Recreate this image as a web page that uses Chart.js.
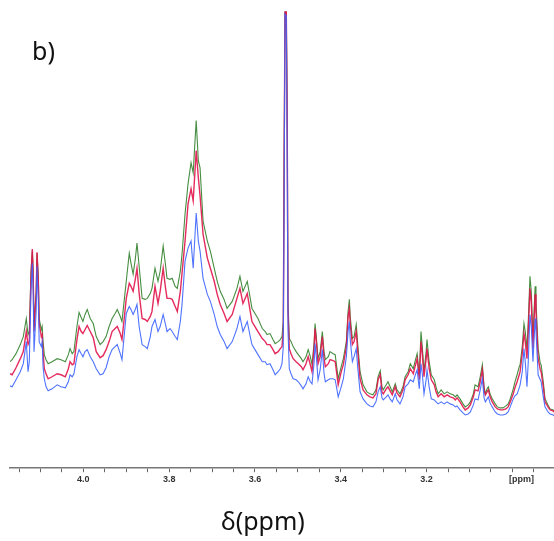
<!DOCTYPE html>
<html>
<head>
<meta charset="utf-8">
<script src="https://cdn.jsdelivr.net/npm/chart.js@4.4.1/dist/chart.umd.min.js"></script>
<style>
  html, body { margin: 0; padding: 0; background: #fff; }
  #wrap { position: relative; width: 554px; height: 541px; overflow: hidden; }
  #wrap canvas { position: absolute; left: 0; top: 0; }
  .lbl { position: absolute; font-family: "Noto Sans", "Open Sans", sans-serif; color: #111; white-space: nowrap; }
  #panel { left: 32px; top: 33px; font-size: 25px; }
  #xlab { left: 221px; top: 503px; font-size: 25px; }
</style>
</head>
<body>
<div id="wrap">
  <canvas id="nmrChart" width="554" height="541"></canvas>
  <div class="lbl" id="panel">b)</div>
  <div class="lbl" id="xlab">δ(ppm)</div>
</div>
<script>
// chemical shift (ppm)
const ppm = [4.171,4.166,4.157,4.147,4.140,4.133,4.129,4.126,4.122,4.119,4.117,4.115,4.110,4.108,4.105,4.103,4.098,4.096,4.094,4.091,
  4.087,4.082,4.073,4.061,4.052,4.042,4.035,4.031,4.026,4.022,4.015,4.010,4.005,4.001,3.996,3.991,3.984,3.977,3.970,3.961,
  3.954,3.947,3.940,3.933,3.926,3.921,3.914,3.910,3.905,3.900,3.893,3.889,3.884,3.879,3.875,3.870,3.863,3.856,3.851,3.844,
  3.840,3.833,3.826,3.821,3.814,3.809,3.805,3.798,3.793,3.786,3.781,3.774,3.770,3.763,3.756,3.749,3.744,3.737,3.732,3.728,
  3.721,3.711,3.704,3.695,3.688,3.681,3.672,3.665,3.653,3.642,3.635,3.628,3.618,3.611,3.607,3.600,3.593,3.583,3.576,3.572,
  3.565,3.558,3.553,3.546,3.541,3.537,3.534,3.532,3.530,3.527,3.525,3.523,3.520,3.516,3.511,3.504,3.499,3.492,3.488,3.481,
  3.476,3.471,3.467,3.462,3.460,3.457,3.453,3.448,3.443,3.439,3.436,3.429,3.425,3.418,3.413,3.406,3.399,3.394,3.387,3.383,
  3.380,3.378,3.373,3.369,3.364,3.360,3.355,3.348,3.339,3.332,3.325,3.318,3.313,3.308,3.304,3.301,3.294,3.290,3.285,3.280,
  3.273,3.269,3.262,3.255,3.250,3.243,3.238,3.231,3.227,3.222,3.217,3.213,3.210,3.206,3.201,3.199,3.194,3.189,3.182,3.178,
  3.173,3.166,3.159,3.152,3.145,3.138,3.133,3.129,3.122,3.115,3.110,3.103,3.098,3.091,3.087,3.080,3.075,3.070,3.066,3.063,
  3.059,3.056,3.052,3.047,3.040,3.035,3.028,3.022,3.015,3.010,3.005,2.998,2.994,2.989,2.984,2.982,2.977,2.973,2.970,2.966,
  2.963,2.959,2.956,2.952,2.947,2.945,2.940,2.935,2.933,2.928,2.924,2.917,2.912,2.905,2.903];

// intensities (arbitrary units) for the three spectra
const greenSpec = [106,108,114,123,131,149,133,136,196,216,196,141,176,214,191,149,138,141,126,113,
  108,104,106,109,108,106,113,119,114,116,141,155,150,146,153,158,149,144,131,123,
  126,131,141,149,154,158,151,146,166,186,214,204,193,208,224,201,169,168,169,174,
  179,199,186,196,221,204,189,188,189,181,179,196,213,253,283,304,294,346,306,299,
  246,226,216,199,186,176,168,159,166,179,191,176,186,169,159,154,149,139,136,133,
  134,128,124,126,128,131,146,316,454,454,366,166,129,126,121,116,113,109,106,111,
  118,111,103,126,144,131,109,116,136,116,108,111,116,114,113,89,101,109,126,156,
  168,151,129,131,143,121,96,83,76,74,73,78,91,97,81,78,83,86,81,76,
  84,78,74,81,91,96,104,99,106,114,93,136,121,96,116,128,106,93,88,81,
  74,78,74,76,74,73,71,73,69,64,61,63,66,74,83,81,91,103,81,74,
  79,81,74,69,64,61,60,60,62,64,69,79,86,93,101,103,121,144,136,119,
  146,191,176,129,181,166,119,104,103,86,69,63,59,58,57];

const redSpec = [94,93,100,109,116,136,123,126,191,218,194,136,174,215,186,144,131,133,116,99,
  94,89,91,94,93,91,99,106,103,104,128,141,136,134,138,142,136,130,116,110,
  112,118,126,136,139,141,134,128,148,169,184,181,176,188,199,174,149,148,146,151,
  156,181,164,176,199,181,169,169,168,161,156,176,194,226,263,278,266,316,289,271,
  233,209,199,186,173,163,154,146,153,169,179,164,174,156,146,141,136,129,126,123,
  123,118,114,116,119,121,136,306,454,454,356,156,119,114,109,106,104,101,98,104,
  111,103,96,121,139,126,104,111,131,109,101,104,108,107,106,83,96,103,121,151,
  159,144,123,126,136,114,89,78,73,71,70,74,88,93,76,74,79,81,77,73,
  81,75,71,78,88,93,99,94,101,109,88,126,114,91,109,119,99,88,83,76,
  71,74,71,73,71,70,68,70,66,61,58,60,63,71,78,77,86,98,78,73,
  76,78,71,66,61,59,58,58,59,61,66,74,80,86,93,96,114,134,126,109,
  136,179,166,119,173,156,109,98,96,81,66,61,58,57,56];

const blueSpec = [82,81,88,96,104,126,96,106,176,204,176,116,156,201,166,126,121,126,101,89,
  81,77,79,83,81,80,86,93,91,94,111,118,114,111,116,118,111,106,99,93,
  94,100,111,118,121,123,114,108,131,154,161,158,153,158,163,141,123,121,119,131,
  141,148,136,141,153,144,136,139,136,131,128,146,163,206,219,226,199,254,226,216,
  189,173,166,153,141,133,126,119,126,139,151,136,146,131,123,118,113,106,106,103,
  104,98,93,96,99,104,121,266,452,450,316,136,99,94,89,88,86,82,79,84,
  91,86,84,106,124,111,88,98,118,94,86,88,89,89,88,71,81,89,111,136,
  146,128,106,111,119,98,76,69,64,62,61,66,76,81,70,68,71,73,69,66,
  74,68,64,71,81,84,88,86,92,98,79,104,94,74,88,98,81,69,68,66,
  64,66,64,66,64,63,61,62,58,55,53,54,56,63,69,68,78,89,70,66,
  69,71,65,61,56,54,53,53,54,56,61,69,72,74,80,83,96,119,106,81,
  106,153,141,106,149,136,93,88,86,71,61,56,54,53,52];

const majorTicks = ['4.0', '3.8', '3.6', '3.4', '3.2'];
const unitLabel = '[ppm]';

function toPoints(vals) {
  return ppm.map((x, i) => ({ x: x, y: vals[i] }));
}

const ctx = document.getElementById('nmrChart').getContext('2d');
new Chart(ctx, {
  type: 'line',
  data: {
    datasets: [
      { label: 'blue', data: toPoints(blueSpec), borderColor: 'rgba(60,100,255,0.9)', borderWidth: 1.1, order: 1 },
      { label: 'red', data: toPoints(redSpec), borderColor: 'rgba(225,20,75,0.9)', borderWidth: 1.4, order: 2 },
      { label: 'green', data: toPoints(greenSpec), borderColor: 'rgba(60,135,55,0.95)', borderWidth: 1.1, order: 3 }
    ]
  },
  options: {
    responsive: false,
    animation: false,
    elements: { point: { radius: 0 }, line: { tension: 0 } },
    layout: { padding: { left: 10, right: 0, top: 10, bottom: 54 } },
    plugins: { legend: { display: false }, tooltip: { enabled: false } },
    scales: {
      x: {
        type: 'linear',
        reverse: true,
        min: 2.903,
        max: 4.171,
        border: { display: true, color: '#777', width: 1.5 },
        grid: { drawOnChartArea: false, drawTicks: true, tickLength: 4, color: '#666' },
        ticks: {
          stepSize: 0.05,
          includeBounds: false,
          autoSkip: false,
          maxRotation: 0,
          padding: 2,
          color: '#333',
          font: { family: 'Liberation Sans, Arial, sans-serif', size: 9, weight: 'bold' },
          callback: function (v) {
            const s = v.toFixed(1);
            if (Math.abs(v - 3.0) < 1e-6) return '\u2003\u2003' + unitLabel;
            if (Math.round(v * 100) % 20 === 0 && majorTicks.includes(s)) return s;
            return '';
          }
        }
      },
      y: { display: false, min: 0, max: 456 }
    }
  }
});
</script>
</body>
</html>
